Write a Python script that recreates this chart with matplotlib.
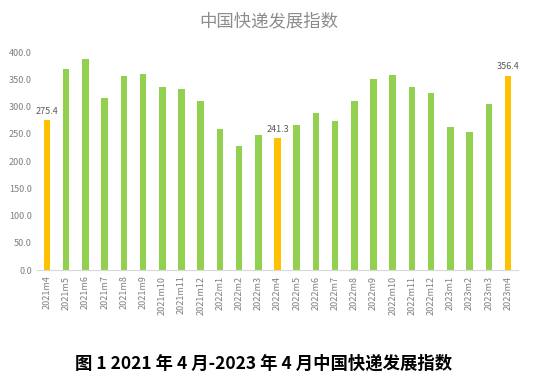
import matplotlib
matplotlib.use("Agg")
import matplotlib.pyplot as plt

plt.rcParams['font.family'] = ['Noto Sans CJK SC', 'DejaVu Sans']

months = ["2021m4", "2021m5", "2021m6", "2021m7", "2021m8", "2021m9", "2021m10",
          "2021m11", "2021m12", "2022m1", "2022m2", "2022m3", "2022m4", "2022m5",
          "2022m6", "2022m7", "2022m8", "2022m9", "2022m10", "2022m11", "2022m12",
          "2023m1", "2023m2", "2023m3", "2023m4"]
index = [275.4, 369, 388, 315, 356, 360, 336, 333, 310, 258, 228, 248, 241.3,
         266, 288, 274, 310, 351, 357, 336, 325, 263, 253, 305, 356.4]
highlight = ["2021m4", "2022m4", "2023m4"]

green = "#92D050"
orange = "#FFC000"
gray = "#7F7F7F"

fig = plt.figure(figsize=(5.38, 3.85), dpi=100)
ax = fig.add_axes([0.0695, 0.2987, 0.8926, 0.5662])

x = list(range(len(months)))
colors = [orange if m in highlight else green for m in months]
ax.bar(x, index, width=0.34, color=colors, zorder=2)

for i, m in enumerate(months):
    if m in highlight:
        ax.text(i, index[i] + 8, f"{index[i]:.1f}", ha="center", va="bottom",
                fontsize=6.5, color="#595959")

ax.set_xlim(-0.5, len(months) - 0.5)
ax.set_ylim(0, 400)
ax.set_yticks(range(0, 401, 50))
ax.set_yticklabels([f"{v:.1f}" for v in range(0, 401, 50)], fontsize=6.5, color=gray)
ax.set_xticks(x)
ax.set_xticklabels(months, rotation=90, fontsize=6.5, color=gray)
ax.tick_params(length=0, pad=4)

for s in ["top", "right", "left"]:
    ax.spines[s].set_visible(False)
ax.spines["bottom"].set_color("#D9D9D9")

fig.text(0.5, 0.945, "中国快递发展指数", ha="center", va="center", fontsize=12.5,
         fontweight="light", color="#8C8C8C")
fig.text(0.49, 0.055, "图 1 2021 年 4 月-2023 年 4 月中国快递发展指数", ha="center", va="center",
         fontsize=12.5, fontweight="bold", color="black")

fig.savefig("out.png", dpi=100)
